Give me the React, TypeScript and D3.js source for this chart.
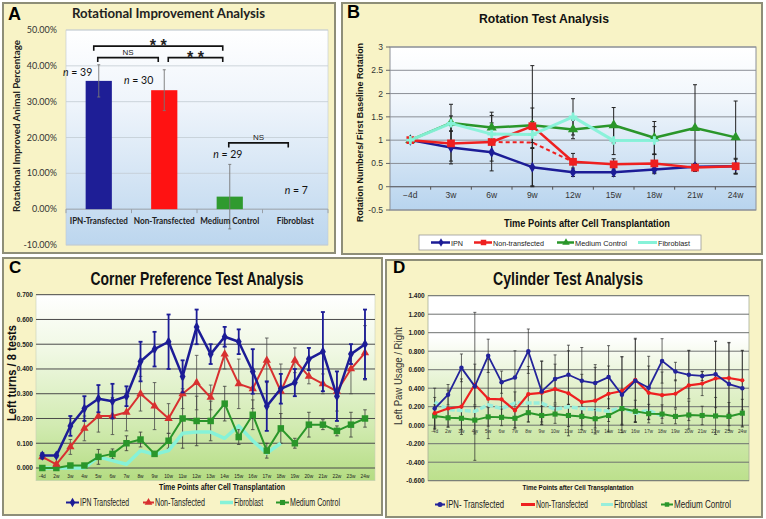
import React from 'react';
import * as d3 from 'd3';

// ---------- Panel A data ----------
const aCategories = ['IPN-Transfected', 'Non-Transfected', 'Medium Control', 'Fibroblast'];
const aValues = [35.8, 33.2, 3.5, 0];
const aErrors = [4.5, 5.7, 9.0, 0];
const aCounts = ['39', '30', '29', '7'];
const aTicks = [-10, 0, 10, 20, 30, 40, 50];
const aColors = ['#1e1e96', '#ff1212', '#2f9a2f', '#888888'];

// ---------- Panel B data ----------
const bCategories = ['\u22124d', '3w', '6w', '9w', '12w', '15w', '18w', '21w', '24w'];
const bTicks = [-0.5, 0, 0.5, 1, 1.5, 2, 2.5, 3];
const bIPN = [1.0, 0.84, 0.74, 0.42, 0.31, 0.31, 0.37, 0.43, 0.44];
const bIPNErr = [0.03, 0.35, 0.4, 0.4, 0.09, 0.09, 0.09, 0.07, 0.15];
const bNon = [1.0, 0.93, 0.96, 1.3, 0.535, 0.48, 0.5, 0.41, 0.44];
const bNonErr = [0.03, 0.38, 0.41, 1.3, 0.18, 0.12, 0.2, 0.08, 0.17];
const bNonDashed = [null, null, 0.96, 0.95, 0.535, null, null, null, null];
const bMedium = [1.0, 1.37, 1.27, 1.32, 1.23, 1.32, 1.05, 1.26, 1.06];
const bMediumErr = [0.03, 0.4, 0.33, 0.37, 0.2, 0.38, 0.35, 0.93, 0.78];
const bFibro = [1.0, 1.36, 1.13, 1.12, 1.5, 0.99, 0.99, null, null];
const bFibroErr = [0.03, 0.16, 0.4, 0.28, 0.39, 0.3, 0.3, null, null];

// ---------- Panels C & D categories ----------
const weekCategories = ['-4d', '2w', '3w', '4w', '5w', '6w', '7w', '8w', '9w', '10w', '11w', '12w', '13w', '14w', '15w', '16w', '17w', '18w', '19w', '20w', '21w', '22w', '23w', '24w'];

// ---------- Panel C data ----------
const cTicks = [0, 0.1, 0.2, 0.3, 0.4, 0.5, 0.6, 0.7];
const cIPN = [0.05, 0.05, 0.17, 0.24, 0.28, 0.27, 0.29, 0.43, 0.48, 0.51, 0.37, 0.57, 0.46, 0.53, 0.51, 0.39, 0.25, 0.32, 0.345, 0.44, 0.47, 0.29, 0.46, 0.5];
const cIPNErr = [0.01, 0.005, 0.04, 0.05, 0.055, 0.07, 0.04, 0.08, 0.07, 0.11, 0.065, 0.07, 0.04, 0.04, 0.05, 0.09, 0.1, 0.06, 0.055, 0.045, 0.16, 0.1, 0.04, 0.14];
const cNon = [0.045, 0.015, 0.085, 0.16, 0.21, 0.21, 0.225, 0.3, 0.25, 0.2, 0.3, 0.345, 0.285, 0.46, 0.34, 0.32, 0.435, 0.31, 0.435, 0.37, 0.34, 0.31, 0.4, 0.465];
const cNonErr = [0.01, 0.005, 0.03, 0.05, 0.065, 0.075, 0.075, 0.07, 0.095, 0.06, 0.06, 0.11, 0.05, 0.06, 0.1, 0.08, 0.09, 0.11, 0.05, 0.03, 0.04, 0.08, 0.1, 0.11];
const cMedium = [0, 0, 0.01, 0.01, 0.045, 0.057, 0.1, 0.115, 0.057, 0.11, 0.2, 0.19, 0.19, 0.26, 0.125, 0.215, 0.07, 0.16, 0.1, 0.175, 0.175, 0.15, 0.175, 0.2];
const cMediumErr = [0, 0, 0.005, 0.005, 0.03, 0.02, 0.03, 0.03, 0.01, 0.03, 0.12, 0.1, 0.08, 0.07, 0.03, 0.06, 0.03, 0.06, 0.02, 0.05, 0.02, 0.02, 0.05, 0.035];
const cFibro = [0, 0, 0, 0, 0.045, 0.03, 0.015, 0.07, 0.055, 0.07, 0.14, 0.145, 0.145, 0.12, 0.17, 0.11, 0.06, 0.1, null, null, null, null, null, null];

// ---------- Panel D data ----------
const dTicks = [-0.6, -0.4, -0.2, 0, 0.2, 0.4, 0.6, 0.8, 1.0, 1.2, 1.4];
const dIPN = [0.18, 0.33, 0.62, 0.42, 0.75, 0.465, 0.515, 0.8, 0.365, 0.5, 0.545, 0.48, 0.455, 0.52, 0.33, 0.48, 0.405, 0.695, 0.58, 0.545, 0.533, 0.55, 0.445, 0.4];
const dIPNErr = [0.22, 0.11, 0.15, 0.8, 0.18, 0.12, 0.29, 0.24, 0.33, 0.26, 0.32, 0.36, 0.2, 0.34, 0.41, 0.45, 0.34, 0.24, 0.1, 0.26, 0.05, 0.36, 0.45, 0.41];
const dNon = [0.13, 0.18, 0.2, 0.44, 0.285, 0.28, 0.16, 0.335, 0.35, 0.39, 0.345, 0.25, 0.265, 0.34, 0.37, 0.49, 0.35, 0.325, 0.34, 0.43, 0.45, 0.505, 0.51, 0.485];
const dNonErr = [0.17, 0.2, 0.3, 0.22, 0.43, 0.2, 0.2, 0.3, 0.34, 0.27, 0.46, 0.3, 0.36, 0.3, 0.37, 0.45, 0.29, 0.25, 0.15, 0.38, 0.13, 0.4, 0.38, 0.32];
const dMedium = [0.1, 0.08, 0.075, 0.055, 0.09, 0.085, 0.075, 0.135, 0.105, 0.12, 0.105, 0.095, 0.07, 0.105, 0.18, 0.15, 0.125, 0.12, 0.095, 0.11, 0.105, 0.1, 0.095, 0.13];
const dMediumErr = [0.12, 0.1, 0.12, 0.15, 0.1, 0.09, 0.1, 0.1, 0.1, 0.1, 0.12, 0.1, 0.1, 0.18, 0.17, 0.12, 0.1, 0.1, 0.08, 0.15, 0.1, 0.2, 0.15, 0.15];
const dFibro = [0.25, 0.17, 0.16, 0.15, 0.22, 0.18, 0.24, 0.24, 0.24, 0.17, 0.2, 0.18, 0.17, 0.15, 0.19, 0.13, 0.16, 0.1, null, null, null, null, null, null];

const BLUE = '#1c1c96';
const RED = '#ee2020';
const GREEN = '#2a962a';
const CYAN = '#86f2d8';
const PANEL_BG = '#f8f3c6';
const PANEL_STROKE = '#8e8e78';

type Num = number | null;

function linePath(vals: Num[], xf: (i: number) => number, y: (v: number) => number) {
  return d3
    .line<Num>()
    .defined((v) => v != null)
    .x((_, i) => xf(i))
    .y((v) => y(v as number))(vals) || '';
}

function ErrorBars({ vals, errs, xf, y, color, sw, cap }: any) {
  return (
    <g stroke={color} strokeWidth={sw} fill="none">
      {vals.map((v: Num, i: number) => {
        const e = errs[i];
        if (v == null || e == null || e === 0) return null;
        const x = xf(i);
        const y1 = y(v + e);
        const y2 = y(v - e);
        return (
          <g key={i}>
            <line x1={x} x2={x} y1={y1} y2={y2} />
            <line x1={x - cap} x2={x + cap} y1={y1} y2={y1} />
            <line x1={x - cap} x2={x + cap} y1={y2} y2={y2} />
          </g>
        );
      })}
    </g>
  );
}

function Markers({ vals, xf, y, type, size, fill, stroke, sw }: any) {
  const p = d3.symbol().type(type).size(size)() || '';
  return (
    <g>
      {vals.map((v: Num, i: number) =>
        v == null ? null : (
          <path key={i} d={p} transform={`translate(${xf(i)},${y(v)})`} fill={fill} stroke={stroke || 'none'} strokeWidth={sw || 0} />
        )
      )}
    </g>
  );
}

function Series({ vals, xf, y, color, width, type, size, dash, opacity }: any) {
  return (
    <g>
      <path d={linePath(vals, xf, y)} fill="none" stroke={color} strokeWidth={width} strokeDasharray={dash} strokeLinejoin="round" opacity={opacity || 1} />
      {type ? <Markers vals={vals} xf={xf} y={y} type={type} size={size} fill={color} /> : null}
    </g>
  );
}

// ---------- Panel A ----------
function PanelA() {
  const x = d3.scaleBand<string>().domain(aCategories).range([66, 328]);
  const y = d3.scaleLinear().domain([-10, 50]).range([245, 30]);
  const bw = x.bandwidth();
  const cx = (i: number) => (x(aCategories[i]) as number) + bw / 2;
  const barW = bw * 0.4;
  const labelPos = [
    { dx: -6.5, dy: 11 },
    { dx: -11, dy: 14 },
    { dx: -2, dy: -6 },
    { dx: 1, dy: -15 },
  ];
  const brackets = [
    { from: 0, to: 2, d1: -5, d2: -7, yv: 45.5, label: '* *', big: true },
    { from: 0, to: 1, d1: -1, d2: -6, yv: 42.3, label: 'NS', big: false },
    { from: 1, to: 2, d1: 4, d2: -7, yv: 42.3, label: '* *', big: true },
    { from: 2, to: 3, d1: -1, d2: -7, yv: 18.5, label: 'NS', big: false },
  ];
  const font = 'Lato, Carlito, sans-serif';
  return (
    <g fontFamily={font}>
      <rect x={3} y={3} width={332} height={250} fill={PANEL_BG} stroke={PANEL_STROKE} strokeWidth={2} />
      <text x={8} y={20} fontSize={18} fontWeight="bold" fontFamily="Liberation Sans, Arial, sans-serif">A</text>
      <text x={168.5} y={18} fontSize={13} fontWeight="bold" textAnchor="middle" fill="#222" textLength={193} lengthAdjust="spacingAndGlyphs">Rotational Improvement Analysis</text>
      <rect x={66} y={30} width={262} height={215} fill="url(#gradA)" stroke="#c0c8d0" strokeWidth={0.6} />
      {aTicks.map((t) => (
        <line key={t} x1={66} x2={328} y1={y(t)} y2={y(t)} stroke={t === 0 ? '#9aa0a8' : '#c3cbd3'} strokeWidth={t === 0 ? 1 : 0.8} />
      ))}
      {aCategories.map((c) => (
        <line key={c} x1={x(c) as number} x2={x(c) as number} y1={y(0)} y2={y(0) + 4} stroke="#9aa0a8" />
      ))}
      <line x1={328} x2={328} y1={y(0)} y2={y(0) + 4} stroke="#9aa0a8" />
      {aTicks.map((t) => (
        <text key={t} x={57} y={y(t) + 3} fontSize={9} textAnchor="end" fill="#333">{t.toFixed(2) + '%'}</text>
      ))}
      <text transform={`translate(20,126) rotate(-90)`} fontSize={10} fontWeight="bold" textAnchor="middle" fill="#222" textLength={172} lengthAdjust="spacingAndGlyphs">Rotational Improved Animal Percentage</text>
      {aValues.map((v, i) =>
        v > 0 ? (
          <rect key={i} x={cx(i) - barW / 2} y={y(v)} width={barW} height={y(0) - y(v)} fill={aColors[i]} />
        ) : null
      )}
      <ErrorBars vals={aValues} errs={aErrors} xf={cx} y={y} color="#777" sw={0.9} cap={1.5} />
      {aCategories.map((c, i) => (
        <text key={c} x={cx(i)} y={224} fontSize={9.5} fontWeight="bold" textAnchor="middle" fill="#222" textLength={[58, 61, 59, 37][i]} lengthAdjust="spacingAndGlyphs">{c}</text>
      ))}
      {aCounts.map((n, i) => (
        <text key={n} x={cx(i) + labelPos[i].dx} y={y(aValues[i] + aErrors[i]) + labelPos[i].dy} fontSize={10.5} textAnchor={i < 2 ? 'end' : 'middle'} fill="#111">
          <tspan fontStyle="italic">n</tspan>
          {' = ' + n}
        </text>
      ))}
      {brackets.map((b, k) => {
        const x1 = cx(b.from) + b.d1;
        const x2 = cx(b.to) + b.d2;
        const yy = y(b.yv);
        return (
          <g key={k}>
            <path d={`M${x1},${yy + 4.5}V${yy}H${x2}V${yy + 4.5}`} fill="none" stroke="#111" strokeWidth={1.6} />
            <text x={(x1 + x2) / 2} y={b.big ? yy + 5 : yy - 2.5} fontSize={b.big ? 16 : 8} fontWeight={b.big ? 'bold' : 'normal'} textAnchor="middle" fill="#222" fontFamily="Liberation Sans, Arial, sans-serif">{b.label}</text>
          </g>
        );
      })}
    </g>
  );
}

// ---------- Panel B ----------
function PanelB() {
  const x = d3.scaleBand<string>().domain(bCategories).range([390, 756]);
  const y = d3.scaleLinear().domain([-0.5, 3]).range([210, 47]);
  const bw = x.bandwidth();
  const xf = (i: number) => (x(bCategories[i]) as number) + bw / 2;
  const legend = [
    { label: 'IPN', color: BLUE, type: d3.symbolDiamond, size: 22, lx: 431, tx: 451, tl: 12 },
    { label: 'Non-transfected', color: RED, type: d3.symbolSquare, size: 30, lx: 474, tx: 493, tl: 51 },
    { label: 'Medium Control', color: GREEN, type: d3.symbolTriangle, size: 24, lx: 557, tx: 575, tl: 52 },
    { label: 'Fibroblast', color: CYAN, type: null, size: 0, lx: 638, tx: 658, tl: 32 },
  ];
  return (
    <g fontFamily="Liberation Sans, Arial, sans-serif">
      <rect x={342} y={3} width={420} height={251} fill={PANEL_BG} stroke={PANEL_STROKE} strokeWidth={2} />
      <text x={347} y={18} fontSize={18} fontWeight="bold">B</text>
      <text x={544} y={23} fontSize={12.5} fontWeight="bold" textAnchor="middle" fill="#111" textLength={130} lengthAdjust="spacingAndGlyphs">Rotation Test Analysis</text>
      <rect x={390} y={47} width={366} height={163} fill="url(#gradB)" stroke="#8c9098" strokeWidth={1} />
      {bTicks.map((t) => (
        <line key={t} x1={390} x2={756} y1={y(t)} y2={y(t)} stroke="#8a8e96" strokeWidth={1} />
      ))}
      <line x1={390} x2={756} y1={y(0)} y2={y(0)} stroke="#6a6e76" strokeWidth={1.2} />
      {bCategories.slice(1).map((c) => (
        <line key={c} x1={x(c) as number} x2={x(c) as number} y1={y(0)} y2={y(0) + 3} stroke="#555" />
      ))}
      {bTicks.map((t) => (
        <line key={'tk' + t} x1={386} x2={390} y1={y(t)} y2={y(t)} stroke="#666" />
      ))}
      {bTicks.map((t) => (
        <text key={'l' + t} x={383} y={y(t) + 3} fontSize={8.5} textAnchor="end" fill="#333">{String(t)}</text>
      ))}
      {bCategories.map((c, i) => (
        <text key={c} x={xf(i)} y={198} fontSize={8.5} textAnchor="middle" fill="#333">{c}</text>
      ))}
      <text transform="translate(363,132.5) rotate(-90)" fontSize={9.5} fontWeight="bold" textAnchor="middle" fill="#111" textLength={179} lengthAdjust="spacingAndGlyphs">Rotation Numbers/ First Baseline Rotation</text>
      <text x={587} y={227} fontSize={10} fontWeight="bold" textAnchor="middle" fill="#111" textLength={166} lengthAdjust="spacingAndGlyphs">Time Points after Cell Transplantation</text>
      <ErrorBars vals={bMedium} errs={bMediumErr} xf={xf} y={y} color="#222" sw={1} cap={2} />
      <ErrorBars vals={bNon} errs={bNonErr} xf={xf} y={y} color="#222" sw={1} cap={2} />
      <ErrorBars vals={bIPN} errs={bIPNErr} xf={xf} y={y} color="#222" sw={1} cap={2} />
      <ErrorBars vals={bFibro} errs={bFibroErr} xf={xf} y={y} color="#222" sw={1} cap={2} />
      <path d={linePath(bNonDashed, xf, y)} fill="none" stroke={RED} strokeWidth={2} strokeDasharray="4,3" />
      <Series vals={bMedium} xf={xf} y={y} color={GREEN} width={2.5} type={d3.symbolTriangle} size={45} />
      <Series vals={bIPN} xf={xf} y={y} color={BLUE} width={2.5} type={d3.symbolDiamond} size={35} />
      <Series vals={bNon} xf={xf} y={y} color={RED} width={2.5} type={d3.symbolSquare} size={60} />
      <Series vals={bFibro} xf={xf} y={y} color={CYAN} width={3} type={d3.symbolCross} size={40} opacity={0.95} />
      <rect x={419} y={235} width={282} height={15} fill="#fff" stroke="#999" strokeWidth={0.8} />
      {legend.map((l) => (
        <g key={l.label}>
          <line x1={l.lx} x2={l.tx - 1} y1={242.5} y2={242.5} stroke={l.color} strokeWidth={l.type ? 2.5 : 3} />
          {l.type ? <path d={d3.symbol().type(l.type).size(l.size)() || ''} transform={`translate(${(l.lx + l.tx) / 2},242.5)`} fill={l.color} /> : null}
          <text x={l.tx} y={245.5} fontSize={8} fill="#222" textLength={l.tl} lengthAdjust="spacingAndGlyphs">{l.label}</text>
        </g>
      ))}
    </g>
  );
}

// ---------- Panel C ----------
function PanelC() {
  const x = d3.scaleBand<string>().domain(weekCategories).range([35.3, 372]);
  const y = d3.scaleLinear().domain([0, 0.7]).range([468, 294.7]);
  const bw = x.bandwidth();
  const xf = (i: number) => (x(weekCategories[i]) as number) + bw / 2;
  const legend = [
    { label: 'IPN Transfected', color: BLUE, type: d3.symbolDiamond, lx: 66, tx: 79, tl: 49 },
    { label: 'Non-Tansfected', color: '#d83030', type: d3.symbolTriangle, lx: 143, tx: 154, tl: 50 },
    { label: 'Fibroblast', color: CYAN, type: null, lx: 220, tx: 233, tl: 29 },
    { label: 'Medium Control', color: GREEN, type: d3.symbolSquare, lx: 276, tx: 289, tl: 50 },
  ];
  return (
    <g fontFamily="Liberation Sans, Arial, sans-serif">
      <rect x={3} y={258} width={379} height={257} fill={PANEL_BG} stroke={PANEL_STROKE} strokeWidth={2} />
      <text x={9} y={273} fontSize={17} fontWeight="bold">C</text>
      <text x={197} y={285} fontSize={18} fontWeight="bold" textAnchor="middle" fill="#111" textLength={213} lengthAdjust="spacingAndGlyphs">Corner Preference Test Analysis</text>
      <rect x={36} y={294.7} width={339} height={186} fill="url(#gradC)" stroke="#c8d0b8" strokeWidth={0.6} />
      {cTicks.map((t) => (
        <line key={t} x1={36} x2={375} y1={y(t)} y2={y(t)} stroke="#4a4a4a" strokeWidth={1} />
      ))}
      {cTicks.map((t) => (
        <text key={'l' + t} x={33} y={y(t) + 2.3} fontSize={6.5} fontWeight="bold" textAnchor="end" fill="#222">{t.toFixed(3)}</text>
      ))}
      {weekCategories.map((c, i) => (
        <text key={c} x={xf(i)} y={478} fontSize={4.8} textAnchor="middle" fill="#222">{c}</text>
      ))}
      <text transform="translate(16,373) rotate(-90)" fontSize={12} fontWeight="bold" textAnchor="middle" fill="#111" textLength={96} lengthAdjust="spacingAndGlyphs">Left turns / 8 tests</text>
      <text x={222} y={490} fontSize={9} fontWeight="bold" textAnchor="middle" fill="#111" textLength={126} lengthAdjust="spacingAndGlyphs">Time Points after Cell Transplantation</text>
      <ErrorBars vals={cMedium} errs={cMediumErr} xf={xf} y={y} color="#3a3a3a" sw={0.8} cap={1.8} />
      <ErrorBars vals={cNon} errs={cNonErr} xf={xf} y={y} color="#4a4a4a" sw={0.8} cap={1.8} />
      <Series vals={cFibro} xf={xf} y={y} color={CYAN} width={3.5} />
      <Series vals={cMedium} xf={xf} y={y} color={GREEN} width={2} type={d3.symbolSquare} size={42} />
      <Series vals={cNon} xf={xf} y={y} color="#d83030" width={2} type={d3.symbolTriangle} size={30} />
      <ErrorBars vals={cIPN} errs={cIPNErr} xf={xf} y={y} color={BLUE} sw={1.8} cap={2} />
      <Series vals={cIPN} xf={xf} y={y} color={BLUE} width={2.5} type={d3.symbolDiamond} size={30} />
      {legend.map((l) => (
        <g key={l.label}>
          <line x1={l.lx} x2={l.tx} y1={502.5} y2={502.5} stroke={l.color} strokeWidth={l.type ? 2 : 3.5} />
          {l.type ? <path d={d3.symbol().type(l.type).size(26)() || ''} transform={`translate(${(l.lx + l.tx) / 2},502.5)`} fill={l.color} /> : null}
          <text x={l.tx + 1} y={506} fontSize={10} fill="#222" textLength={l.tl} lengthAdjust="spacingAndGlyphs">{l.label}</text>
        </g>
      ))}
    </g>
  );
}

// ---------- Panel D ----------
function PanelD() {
  const x = d3.scaleBand<string>().domain(weekCategories).range([428, 749]);
  const y = d3.scaleLinear().domain([-0.6, 1.4]).range([480.7, 295.7]);
  const bw = x.bandwidth();
  const xf = (i: number) => (x(weekCategories[i]) as number) + bw / 2;
  const FIB = '#98eedb';
  const legend = [
    { label: 'IPN- Transfected', color: '#23239a', type: d3.symbolCircle, lx: 435, tx: 445, tl: 58 },
    { label: 'Non-Transfected', color: RED, type: null, lx: 521, tx: 535, tl: 52 },
    { label: 'Fibroblast', color: FIB, type: null, lx: 601, tx: 613, tl: 33 },
    { label: 'Medium Control', color: GREEN, type: d3.symbolSquare, lx: 661, tx: 673, tl: 57 },
  ];
  return (
    <g fontFamily="Liberation Sans, Arial, sans-serif">
      <rect x={386} y={260} width={376} height={257} fill={PANEL_BG} stroke={PANEL_STROKE} strokeWidth={2} />
      <text x={393} y={273} fontSize={17} fontWeight="bold">D</text>
      <text x={568} y={285} fontSize={18} fontWeight="bold" textAnchor="middle" fill="#111" textLength={150} lengthAdjust="spacingAndGlyphs">Cylinder Test Analysis</text>
      <rect x={428} y={295.7} width={321} height={185} fill="url(#gradD)" stroke="#a8b098" strokeWidth={0.8} />
      {dTicks.map((t) => (
        <line key={t} x1={428} x2={749} y1={y(t)} y2={y(t)} stroke="#6e7270" strokeWidth={1} />
      ))}
      {dTicks.map((t) => (
        <text key={'l' + t} x={424.7} y={y(t) + 2.3} fontSize={6.5} fontWeight="bold" textAnchor="end" fill="#222">{t.toFixed(3)}</text>
      ))}
      {weekCategories.map((c, i) => (
        <text key={c} x={xf(i)} y={433} fontSize={4.8} textAnchor="middle" fill="#333">{c}</text>
      ))}
      <text transform="translate(402,376) rotate(-90)" fontSize={11} textAnchor="middle" fill="#333" textLength={98} lengthAdjust="spacingAndGlyphs">Left Paw Usage / Right</text>
      <text x={578} y={490} fontSize={7} fontWeight="bold" textAnchor="middle" fill="#111" textLength={111} lengthAdjust="spacingAndGlyphs">Time Points after Cell Transplantation</text>
      <ErrorBars vals={dIPN} errs={dIPNErr} xf={xf} y={y} color="#2a2a2a" sw={0.7} cap={1.5} />
      <ErrorBars vals={dNon} errs={dNonErr} xf={xf} y={y} color="#2a2a2a" sw={0.7} cap={1.5} />
      <ErrorBars vals={dMedium} errs={dMediumErr} xf={xf} y={y} color="#2a2a2a" sw={0.7} cap={1.5} />
      <Series vals={dFibro} xf={xf} y={y} color={FIB} width={3.5} dash="6,2" />
      <Series vals={dMedium} xf={xf} y={y} color={GREEN} width={2} type={d3.symbolSquare} size={26} />
      <Series vals={dNon} xf={xf} y={y} color={RED} width={2.2} type={d3.symbolCircle} size={14} />
      <Series vals={dIPN} xf={xf} y={y} color="#23239a" width={1.8} type={d3.symbolCircle} size={16} />
      {legend.map((l) => (
        <g key={l.label}>
          <line x1={l.lx} x2={l.tx} y1={504.5} y2={504.5} stroke={l.color} strokeWidth={l.type ? 2 : 3} />
          {l.type ? <path d={d3.symbol().type(l.type).size(20)() || ''} transform={`translate(${(l.lx + l.tx) / 2},504.5)`} fill={l.color} /> : null}
          <text x={l.tx + 1} y={508} fontSize={10} fill="#222" textLength={l.tl} lengthAdjust="spacingAndGlyphs">{l.label}</text>
        </g>
      ))}
    </g>
  );
}

export default function App() {
  return (
    <svg width={766} height={519} style={{ position: 'absolute', left: 0, top: 0, background: '#ffffff' }}>
      <defs>
        <linearGradient id="gradA" x1="0" y1="0" x2="0" y2="1">
          <stop offset="0" stopColor="#ffffff" />
          <stop offset="0.35" stopColor="#eef4fb" />
          <stop offset="1" stopColor="#bcd6ee" />
        </linearGradient>
        <linearGradient id="gradB" x1="0" y1="0" x2="0" y2="1">
          <stop offset="0" stopColor="#ffffff" />
          <stop offset="0.3" stopColor="#f2f7fc" />
          <stop offset="1" stopColor="#b8d4ee" />
        </linearGradient>
        <linearGradient id="gradC" x1="0" y1="0" x2="0" y2="1">
          <stop offset="0" stopColor="#ffffff" />
          <stop offset="0.3" stopColor="#f0f8e4" />
          <stop offset="0.7" stopColor="#d2ebb2" />
          <stop offset="1" stopColor="#b4dc82" />
        </linearGradient>
        <linearGradient id="gradD" x1="0" y1="0" x2="0" y2="1">
          <stop offset="0" stopColor="#ffffff" />
          <stop offset="0.22" stopColor="#ffffff" />
          <stop offset="0.5" stopColor="#e2f1cc" />
          <stop offset="1" stopColor="#bce08c" />
        </linearGradient>
      </defs>
      <PanelA />
      <PanelB />
      <PanelC />
      <PanelD />
    </svg>
  );
}
